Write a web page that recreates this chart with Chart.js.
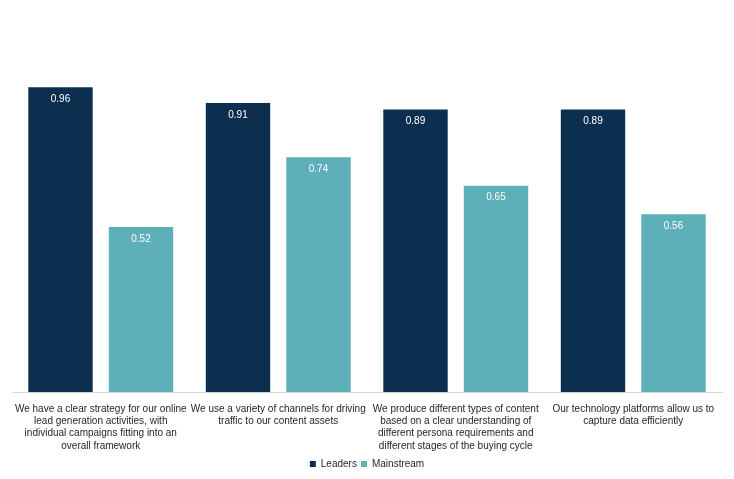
<!DOCTYPE html>
<html>
<head>
<meta charset="utf-8">
<script src="https://cdn.jsdelivr.net/npm/chart.js@4/dist/chart.umd.min.js"></script>
<style>
  html, body { margin: 0; padding: 0; background: #ffffff; }
  #wrap { width: 734px; height: 479px; }
</style>
</head>
<body>
<div id="wrap"><canvas id="barChart"></canvas></div>
<script>
// Chart data
const categories = [
    ['We have a clear strategy for our online', 'lead generation activities, with', 'individual campaigns fitting into an', 'overall framework'],
    ['We use a variety of channels for driving', 'traffic to our content assets'],
    ['We produce different types of content', 'based on a clear understanding of', 'different persona requirements and', 'different stages of the buying cycle'],
    ['Our technology platforms allow us to', 'capture data efficiently']
];
const leaders = [0.96, 0.91, 0.89, 0.89];
const mainstream = [0.52, 0.74, 0.65, 0.56];

const FONT = '"Liberation Sans", Arial, sans-serif';

// Draw value labels just inside the top of each bar
const valueLabels = {
    id: 'valueLabels',
    afterDatasetsDraw: function (chart) {
        const ctx = chart.ctx;
        ctx.save();
        ctx.fillStyle = '#FFFFFF';
        ctx.font = '10px ' + FONT;
        ctx.textAlign = 'center';
        ctx.textBaseline = 'middle';
        chart.data.datasets.forEach(function (ds, i) {
            chart.getDatasetMeta(i).data.forEach(function (bar, j) {
                ctx.fillText(ds.data[j].toFixed(2), bar.x, bar.y + 12);
            });
        });
        ctx.restore();
    }
};

new Chart(document.getElementById('barChart'), {
    type: 'bar',
    data: {
        labels: categories,
        datasets: [
            {
                label: 'Leaders',
                data: leaders,
                backgroundColor: '#0C2F4F',
                categoryPercentage: 0.907,
                barPercentage: 0.8
            },
            {
                label: 'Mainstream',
                data: mainstream,
                backgroundColor: '#5DAFB8',
                categoryPercentage: 0.907,
                barPercentage: 0.8
            }
        ]
    },
    options: {
        responsive: true,
        maintainAspectRatio: false,
        animation: false,
        layout: {
            padding: { top: 11, left: 12, right: 12, bottom: 0 }
        },
        plugins: {
            legend: {
                position: 'bottom',
                labels: {
                    boxWidth: 6,
                    boxHeight: 6,
                    padding: 4,
                    color: '#262626',
                    font: { size: 10, family: FONT }
                }
            },
            tooltip: { enabled: false }
        },
        scales: {
            x: {
                grid: { display: false },
                border: { display: true, color: '#D9D9D9' },
                ticks: {
                    color: '#262626',
                    maxRotation: 0,
                    autoSkip: false,
                    padding: 3,
                    font: { size: 10, family: FONT, lineHeight: 1.22 }
                },
                // keep the plot area edge-to-edge like the original
                afterFit: function (scale) {
                    scale.paddingLeft = 0;
                    scale.paddingRight = 0;
                }
            },
            y: {
                display: false,
                min: 0,
                max: 1.2
            }
        }
    },
    plugins: [valueLabels]
});
</script>
</body>
</html>
